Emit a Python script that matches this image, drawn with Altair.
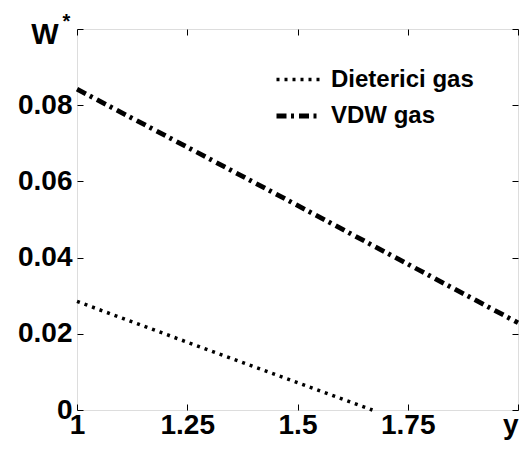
import altair as alt
import pandas as pd

series_names = ["Dieterici gas", "VDW gas"]
dieterici_x = [1.0, 1.25, 1.5, 1.67]
dieterici_y = [0.0285, 0.0178, 0.0072, 0.0]
vdw_x = [1.0, 1.25, 1.5, 1.75, 2.0]
vdw_y = [0.0842, 0.0690, 0.0537, 0.0383, 0.0229]
x_ticks = [1, 1.25, 1.5, 1.75, 2]
y_ticks = [0, 0.02, 0.04, 0.06, 0.08, 0.1]

rows = []
for xv, yv in zip(dieterici_x, dieterici_y):
    rows.append({"x": xv, "y": yv, "series": series_names[0]})
for xv, yv in zip(vdw_x, vdw_y):
    rows.append({"x": xv, "y": yv, "series": series_names[1]})
df = pd.DataFrame(rows)

W, H = 441, 381
FONT = "Liberation Sans"
xscale = alt.Scale(domain=[1, 2], nice=False, zero=False)
yscale = alt.Scale(domain=[0, 0.1], nice=False, zero=False)

base = alt.Chart(df)

lines = base.mark_line(color="black", strokeCap="butt").encode(
    x=alt.X("x:Q", scale=xscale,
            axis=alt.Axis(values=x_ticks, format=".2~f",
                          labelExpr="datum.value == 2 ? 'y' : datum.label",
                          labelAlign={"condition": {"test": "datum.value == 2", "value": "right"},
                                      "value": "center"},
                          ticks=False, tickSize=0, domain=False, grid=False,
                          title=None, labelFont=FONT, labelFontSize=28,
                          labelFontWeight="bold", labelColor="black",
                          labelPadding=1, labelFlush=False, labelOverlap=False)),
    y=alt.Y("y:Q", scale=yscale,
            axis=alt.Axis(values=[0, 0.02, 0.04, 0.06, 0.08], format=".2~f",
                          ticks=False, tickSize=0, domain=False, grid=False,
                          title="W", titleAngle=0, titleAlign="right",
                          titleBaseline="alphabetic", titleX=-19, titleY=14,
                          titleFont=FONT, titleFontSize=29, titleFontWeight="bold",
                          titleColor="black",
                          labelFont=FONT, labelFontSize=28, labelFontWeight="bold",
                          labelColor="black", labelPadding=5, labelFlush=False,
                          labelOverlap=False)),
    strokeDash=alt.StrokeDash("series:N",
        scale=alt.Scale(domain=series_names, range=[[3, 5], [10, 4.5, 3, 5]]),
        legend=alt.Legend(title=None, orient="none", legendX=197, legendY=27,
                          symbolType="stroke", symbolSize=1849,
                          symbolStrokeWidth=4, symbolStrokeColor="black",
                          labelFont=FONT, labelFontSize=24, labelFontWeight="bold",
                          labelColor="black", labelOffset=9, rowPadding=-10,
                          padding=0)),
    strokeWidth=alt.StrokeWidth("series:N",
        scale=alt.Scale(domain=series_names, range=[3.5, 4.8]), legend=None),
)

tick_axis = dict(labels=False, domain=False, grid=False, ticks=True, tickSize=6,
                 tickColor="black", tickWidth=1, title=None)

ticksB = base.mark_line(opacity=0).encode(
    x=alt.X("x:Q", scale=xscale,
            axis=alt.Axis(orient="top", offset=-H, values=x_ticks, **tick_axis)),
    y=alt.Y("y:Q", scale=yscale,
            axis=alt.Axis(orient="right", offset=-W, values=y_ticks,
                          labels=False, domain=False, grid=False, ticks=True,
                          tickSize=6, tickColor="black", tickWidth=1,
                          title="*", titleAngle=0, titleAlign="center",
                          titleBaseline="alphabetic", titleX=-11, titleY=-2,
                          titleFont=FONT, titleFontSize=20,
                          titleFontWeight="bold", titleColor="black")),
    detail="series:N",
)

ticksC = base.mark_line(opacity=0).encode(
    x=alt.X("x:Q", scale=xscale,
            axis=alt.Axis(orient="bottom", offset=-H, values=x_ticks, **tick_axis)),
    y=alt.Y("y:Q", scale=yscale,
            axis=alt.Axis(orient="left", offset=-W, values=y_ticks, **tick_axis)),
    detail="series:N",
)

chart = alt.layer(lines, ticksB, ticksC).resolve_axis(
    x="independent", y="independent"
).properties(
    width=W, height=H,
    autosize=alt.AutoSizeParams(type="none"),
    padding={"left": 69, "top": 21, "right": 5, "bottom": 33},
).configure_view(stroke="black", strokeWidth=1.5).configure(background="white")

chart.save("out.html", embed_options={"renderer": "svg", "actions": False})
